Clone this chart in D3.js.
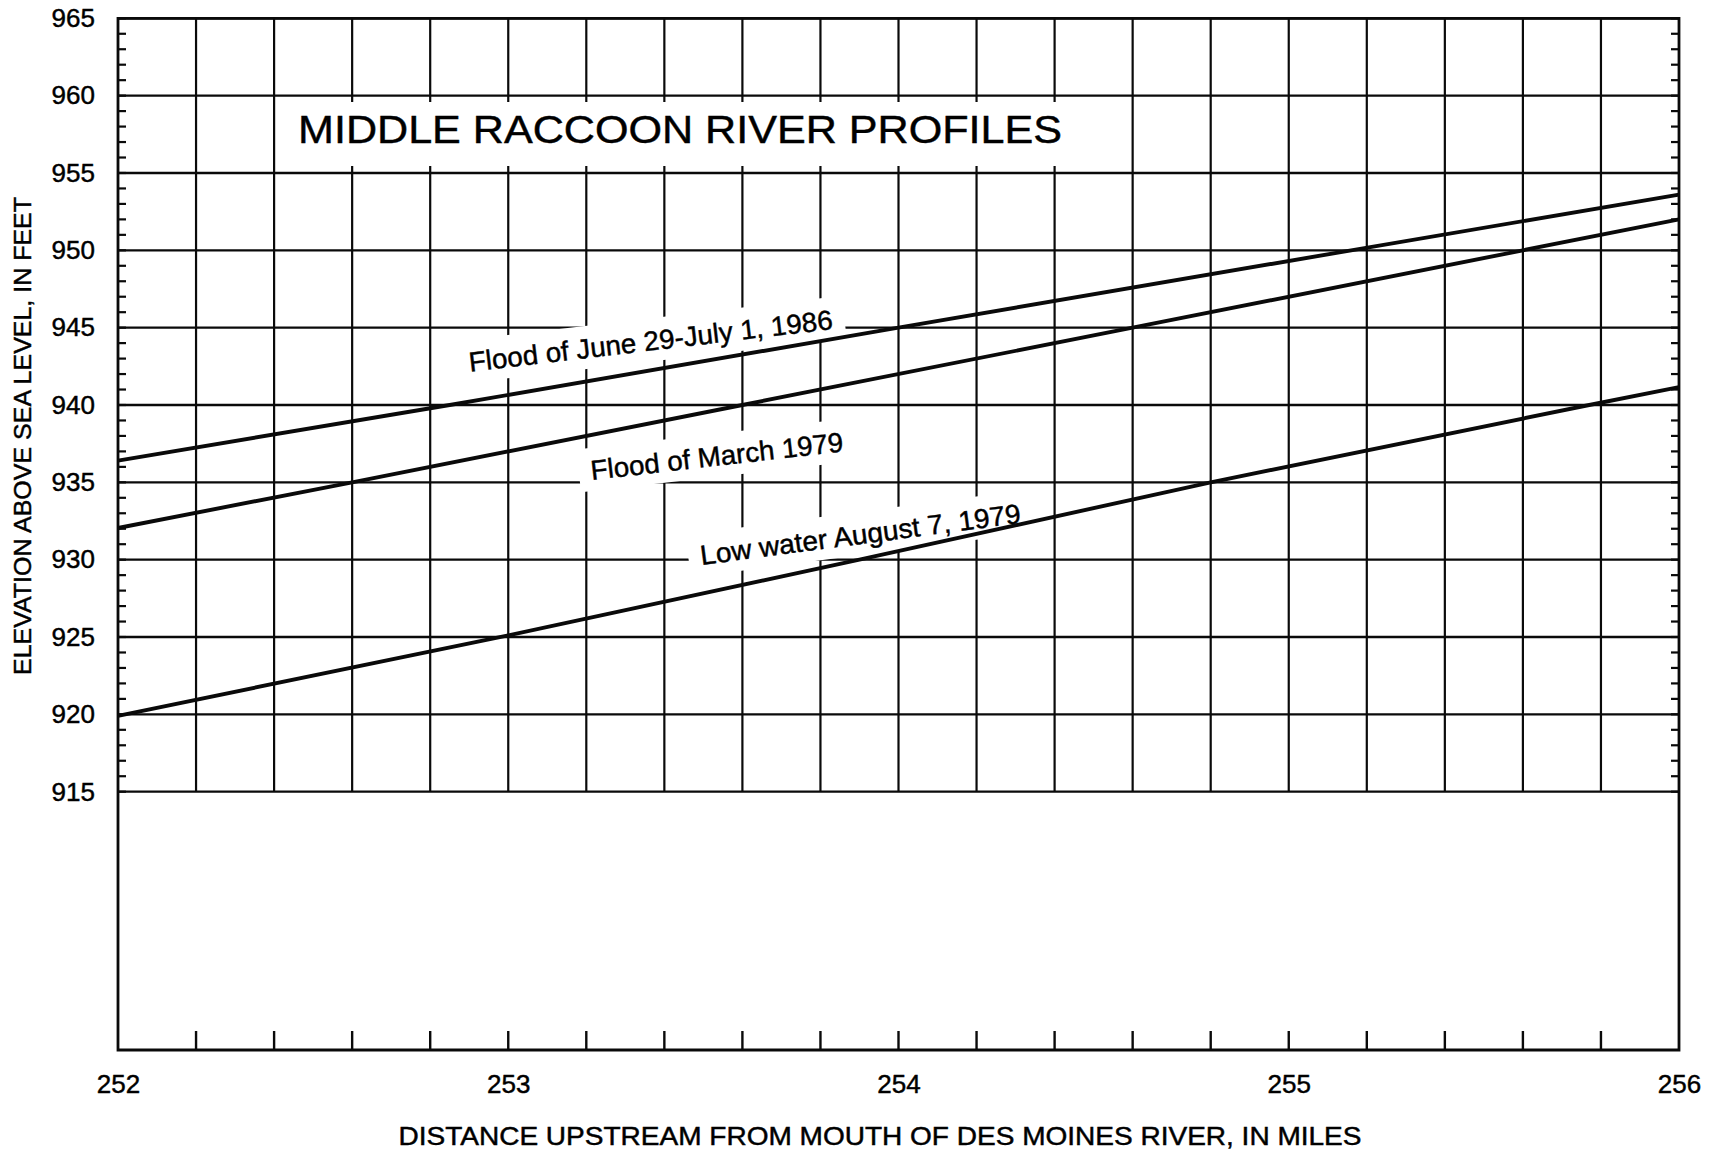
<!DOCTYPE html>
<html><head><meta charset="utf-8">
<script src="https://cdn.jsdelivr.net/npm/d3@7"></script>
<style>
body{margin:0;background:#fff}
svg{display:block}
text{font-family:"Liberation Sans",Arial,Helvetica,sans-serif;fill:#000;stroke:#000;stroke-width:0.45px}
</style>
</head><body>
<svg id="chart" width="1725" height="1154"></svg>
<script>
// ---------- data ----------
const xTickLabels = [252, 253, 254, 255, 256];
const yTickLabels = [915, 920, 925, 930, 935, 940, 945, 950, 955, 960, 965];
const flood1986 = [[252, 936.4], [252.85, 940], [254.0, 945], [255.16, 950], [256, 953.6]];
const flood1979 = [[252, 932.05], [252.6, 935], [253.6, 940], [254.6, 945], [255.6, 950], [256, 952.0]];
const lowWater1979 = [[252, 919.9], [253.0, 925.1], [253.9, 930], [254.8, 935], [255.77, 940], [256, 941.15]];
const seriesLabels = ["Flood of June 29-July 1, 1986", "Flood of March 1979", "Low water August 7, 1979"];
const chartTitle = "MIDDLE RACCOON RIVER PROFILES";
const xAxisTitle = "DISTANCE UPSTREAM FROM MOUTH OF DES MOINES RIVER, IN MILES";
const yAxisTitle = "ELEVATION ABOVE SEA LEVEL, IN FEET";

// ---------- layout ----------
const svg = d3.select("#chart");
const x = d3.scaleLinear().domain([252, 256]).range([118, 1679]);
const y = d3.scaleLinear().domain([898.3, 965]).range([1050, 18.3]);
const yBottomPx = 1050;
const ink = "#0a0a0a";

const gridX = d3.range(0, 21).map(i => +(252 + i * 0.2).toFixed(1));
const minorY = d3.range(915, 966, 1);

// grid
const grid = svg.append("g");
grid.selectAll("line.v").data(gridX.slice(1, -1)).join("line")
  .attr("x1", d => x(d)).attr("x2", d => x(d))
  .attr("y1", y(965)).attr("y2", y(915))
  .attr("stroke", ink).attr("stroke-width", 2.2);
grid.selectAll("line.h").data(yTickLabels).join("line")
  .attr("x1", x(252)).attr("x2", x(256))
  .attr("y1", d => y(d)).attr("y2", d => y(d))
  .attr("stroke", ink).attr("stroke-width", 2.3);

// title box
svg.append("rect").attr("x", 286).attr("y", 102).attr("width", 790).attr("height", 64).attr("fill", "#fff");
svg.append("text").attr("x", 298).attr("y", 143)
  .attr("font-size", 39).attr("textLength", 764).attr("lengthAdjust", "spacingAndGlyphs")
  .text(chartTitle);

// label layout (anchor in data coordinates, angle, text length)
const labelLayout = [
  {mile: 252.902, elev: 942.15, angle: -6.7, len: 366},
  {mile: 253.214, elev: 935.15, angle: -6.5, len: 254},
  {mile: 253.495, elev: 929.66, angle: -7.5, len: 323}
];
const labelGroups = labelLayout.map((l, i) => svg.append("g")
  .attr("transform", `translate(${x(l.mile)},${y(l.elev)}) rotate(${l.angle})`));
labelGroups.forEach((g, i) => {
  const l = labelLayout[i];
  g.append("rect").attr("x", -12).attr("y", -32).attr("width", l.len + 24).attr("height", 43).attr("fill", "#fff");
});

// series lines
const line = d3.line().x(d => x(d[0])).y(d => y(d[1]));
[flood1986, flood1979, lowWater1979].forEach(s => {
  svg.append("path").datum(s).attr("d", line)
    .attr("fill", "none").attr("stroke", ink).attr("stroke-width", 3.9)
    .attr("stroke-linejoin", "round");
});

labelGroups.forEach((g, i) => {
  const l = labelLayout[i];
  g.append("text").attr("x", 0).attr("y", 0).attr("font-size", 27.5)
    .attr("textLength", l.len).attr("lengthAdjust", "spacingAndGlyphs")
    .text(seriesLabels[i]);
});

// frame
const frame = svg.append("g").attr("stroke", ink).attr("stroke-width", 2.8).attr("fill", "none");
frame.append("path").attr("d", `M${x(252)},${y(965)} V${yBottomPx} H${x(256)} V${y(965)} Z`);

// minor elevation ticks (inside, both sides)
svg.append("g").selectAll("line").data(minorY).join("line")
  .attr("x1", x(252)).attr("x2", x(252) + 8).attr("y1", d => y(d)).attr("y2", d => y(d))
  .attr("stroke", ink).attr("stroke-width", 2.2);
svg.append("g").selectAll("line").data(minorY).join("line")
  .attr("x1", x(256)).attr("x2", x(256) - 8).attr("y1", d => y(d)).attr("y2", d => y(d))
  .attr("stroke", ink).attr("stroke-width", 2.2);

// bottom ticks
svg.append("g").selectAll("line").data(gridX.slice(1, -1)).join("line")
  .attr("x1", d => x(d)).attr("x2", d => x(d)).attr("y1", yBottomPx).attr("y2", yBottomPx - 19)
  .attr("stroke", ink).attr("stroke-width", 2.4);

// axes labels via d3 axes
const yAxis = svg.append("g").attr("transform", `translate(${x(252)},0)`)
  .call(d3.axisLeft(y).tickValues(yTickLabels).tickSize(0).tickPadding(23).tickFormat(d3.format("d")));
yAxis.select(".domain").remove();
yAxis.selectAll("text").attr("font-size", 26).attr("font-family", null).style("fill", "#000");

const xAxis = svg.append("g").attr("transform", `translate(0,${yBottomPx})`)
  .call(d3.axisBottom(x).tickValues(xTickLabels).tickSize(0).tickPadding(25).tickFormat(d3.format("d")));
xAxis.select(".domain").remove();
xAxis.selectAll("text").attr("font-size", 26).attr("font-family", null).style("fill", "#000");

// axis titles
svg.append("text").attr("x", 880).attr("y", 1145).attr("text-anchor", "middle")
  .attr("font-size", 25).attr("textLength", 963).attr("lengthAdjust", "spacingAndGlyphs")
  .text(xAxisTitle);
svg.append("text").attr("transform", "translate(31,436) rotate(-90)").attr("text-anchor", "middle")
  .attr("font-size", 24.5).attr("textLength", 478).attr("lengthAdjust", "spacingAndGlyphs")
  .text(yAxisTitle);
</script>
</body></html>
